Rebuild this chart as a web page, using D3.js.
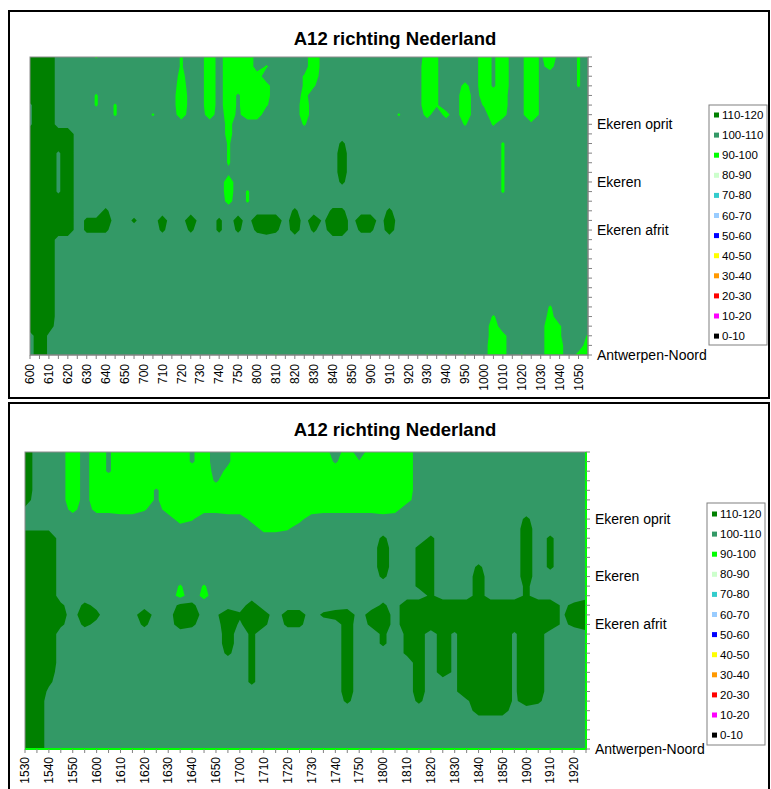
<!DOCTYPE html>
<html>
<head>
<meta charset="utf-8">
<script src="https://cdn.jsdelivr.net/npm/d3@7"></script>
<style>
  body { margin: 0; background: #fff; }
  svg { display: block; }
</style>
</head>
<body>
<div id="chart"></div>
<script>
// legend classes, top to bottom
const bandLabels = ["110-120", "100-110", "90-100", "80-90", "70-80", "60-70", "50-60", "40-50", "30-40", "20-30", "10-20", "0-10"];
const bandColors = ["#008000", "#339966", "#00ff00", "#ccffcc", "#33cccc", "#99ccff", "#0000ff", "#ffff00", "#ff9900", "#ff0000", "#ff00ff", "#000000"];
const bandLower = [110, 100, 90, 80, 70, 60, 50, 40, 30, 20, 10, 0];

// one character = one speed reading (km/h)
const speedKey = { "0": 92, "1": 95, "2": 97, "3": 99, "4": 102, "5": 105, "6": 108, "7": 112, "8": 115, "9": 118 };

const times1 = ["600", "605", "610", "615", "620", "625", "630", "635", "640", "645", "650", "655",
  "700", "705", "710", "715", "720", "725", "730", "735", "740", "745", "750", "755",
  "800", "805", "810", "815", "820", "825", "830", "835", "840", "845", "850", "855",
  "900", "905", "910", "915", "920", "925", "930", "935", "940", "945", "950", "955",
  "1000", "1005", "1010", "1015", "1020", "1025", "1030", "1035", "1040", "1045", "1050", "1055"];

const times2 = ["1530", "1535", "1540", "1545", "1550", "1555",
  "1600", "1605", "1610", "1615", "1620", "1625", "1630", "1635", "1640", "1645", "1650", "1655",
  "1700", "1705", "1710", "1715", "1720", "1725", "1730", "1735", "1740", "1745", "1750", "1755",
  "1800", "1805", "1810", "1815", "1820", "1825", "1830", "1835", "1840", "1845", "1850", "1855",
  "1900", "1905", "1910", "1915", "1920", "1925"];

// measuring points, top of the chart to bottom
const places = ["", "", "", "", "", "", "", "Ekeren oprit", "", "", "", "", "", "Ekeren", "", "", "", "",
  "Ekeren afrit", "", "", "", "", "", "", "", "", "", "", "", "", "Antwerpen-Noord"];

// morning, 6:00 - 10:55
const speeds1 = [
  "9995555355 5555553550 5000555555 0555555555 5513555504 0540405535",
  "9995555555 5555553550 5000535555 0555555555 5503555504 0540425535",
  "9995555555 5555552550 5000155553 1555555555 5503555504 0540455535",
  "9995555555 5555551550 5000025553 3555555555 5503552504 0540455535",
  "9995555355 5555550550 5040025552 5555555555 5503550510 1540455555",
  "6995555353 5555550550 5040035551 5555555555 5503550530 1540455555",
  "6995555553 5553551551 5141155551 5555555553 5525250550 2540455555",
  "6995555555 5555555555 5255555553 5555555555 5555553553 5554555555",
  "9999955555 5555555555 5255555555 5555555555 5555555555 5555555555",
  "9999955555 5555555555 5355555555 5557555555 5555555555 3555555555",
  "9996955555 5555555555 5355555555 5558555555 5555555555 3555555555",
  "9996955555 5555555555 5355555555 5558555555 5555555555 3555555555",
  "9996955555 5555555555 5455555555 5558555555 5555555555 3555555555",
  "9996955555 5555555555 5155555555 5557555555 5555555555 3555555555",
  "9996955555 5555555555 5153555555 5555555555 5555555555 3555555555",
  "9999955555 5555555555 5253555555 5555555555 5555555555 5555555555",
  "9999955575 5555555555 5555555575 5577555575 5555555555 5555555555",
  "9999957795 5755855955 7585999595 9699599595 5555555555 5555555555",
  "9999957775 5555755755 7575787585 7599577585 5555555555 5555555555",
  "9995555555 5555555555 5555555555 5555555555 5555555555 5555555555",
  "9995555555 5555555555 5555555555 5555555555 5555555555 5555555555",
  "9995555555 5555555555 5555555555 5555555555 5555555555 5555555555",
  "9995555555 5555555555 5555555555 5555555555 5555555555 5555555555",
  "9995555555 5555555555 5555555555 5555555555 5555555555 5555555555",
  "9995555555 5555555555 5555555555 5555555555 5555555555 5555555555",
  "9995555555 5555555555 5555555555 5555555555 5555555555 5555555555",
  "9995555555 5555555555 5555555555 5555555555 5555555555 5555535555",
  "9995555555 5555555555 5555555555 5555555555 5555555553 5555525555",
  "9985555555 5555555555 5555555555 5555555555 5555555551 5555503555",
  "5965555555 5555555555 5555555555 5555555555 5555555551 2555503553",
  "5965555555 5555555555 5555555555 5555555555 5555555550 2555502551",
  "5965555555 5555555555 5555553555 5555555555 5535353550 2535502520"
];

// evening, 15:30 - 19:25
const speeds2 = [
  "9555050400 0000406400 0000006060 0015555555 55555555",
  "9555050400 0000406400 0000004030 0015555555 55555555",
  "9555050400 0000005200 0000000000 0015555555 55555555",
  "9555050000 0000004000 0000000000 0015555555 55555555",
  "9555050000 0400000000 0000000000 0015555555 55555555",
  "8555050000 0400000000 0000000000 0025555555 55555555",
  "6555252211 3510022110 0000122222 1255555555 55555555",
  "5555555555 5551355552 0002555555 5555555555 55755555",
  "6665555555 5555555555 2235555555 5555555555 55855555",
  "9995555555 5555555555 5555555555 7555755555 55857555",
  "9995555555 5555555555 5555555555 8557755555 55857555",
  "9995555555 5555555555 5555555555 8557755555 55857555",
  "9995555555 5555555555 5555555555 8557755575 55857555",
  "9995555555 5555555555 5555555555 7557755585 55855555",
  "9995555555 5553535555 5555555555 5557755585 55755555",
  "9995555555 5552525555 5555555555 5555755585 55755555",
  "9997576555 5557755558 5555555555 7599999999 99999679",
  "9998597555 9559956979 8588578958 9599999999 99999699",
  "9997576555 7558755969 7577555857 9599999999 99999679",
  "9995555555 5555555857 5555555855 7578586999 96985555",
  "9995555555 5555555857 5555555855 7578586999 96985555",
  "9995555555 5555555757 5555555855 5578586999 96985555",
  "9995555555 5555555557 5555555855 5558586999 96985555",
  "9985555555 5555555557 5555555855 5558586999 96985555",
  "9975555555 5555555557 5555555855 5558556999 96985555",
  "9965555555 5555555555 5555555855 5558556999 96985555",
  "9955555555 5555555555 5555555755 5557555699 96875555",
  "9955555555 5555555555 5555555555 5555555588 85555555",
  "9955555555 5555555555 5555555555 5555555555 55555555",
  "9955555555 5555555555 5555555555 5555555555 55555555",
  "9955555555 5555555555 5555555555 5555555555 55555555",
  "9955555555 5555555555 5555555555 5555555555 55555555"
];

const width = 771;
const height = 789;
const font = "'Liberation Sans', Arial, sans-serif";

const panels = [
  { id: "clip1", times: times1, rows: speeds1, box: [9, 11, 760, 387], titleY: 45, labelGap: 9,
    left: 30, right: 588, top: 57, bottom: 355, legend: [709, 105, 58, 240], legendY0: 115, edge: "#808080" },
  { id: "clip2", times: times2, rows: speeds2, box: [9, 403, 760, 420], titleY: 436, labelGap: 8,
    left: 25, right: 586, top: 452, bottom: 749, legend: [707, 503, 58, 242], legendY0: 514, edge: "#00ff00" }
];

const svg = d3.select("#chart").append("svg")
  .attr("width", width)
  .attr("height", height)
  .attr("viewBox", [0, 0, width, height]);

const defs = svg.append("defs");

panels.forEach(p => {
  const g = svg.append("g");

  g.append("rect")
    .attr("x", p.box[0]).attr("y", p.box[1])
    .attr("width", p.box[2]).attr("height", p.box[3])
    .attr("fill", "#fff")
    .attr("stroke", "#000")
    .attr("stroke-width", 2);

  g.append("text")
    .attr("x", 395)
    .attr("y", p.titleY)
    .attr("text-anchor", "middle")
    .attr("font-family", font)
    .attr("font-weight", "bold")
    .attr("font-size", "18.5px")
    .text("A12 richting Nederland");

  const nx = p.times.length;
  const ny = places.length;
  const values = p.rows.flatMap(r => {
    const s = r.replace(/ /g, "").padEnd(nx, "5").slice(0, nx);
    return Array.from(s, ch => speedKey[ch]);
  });

  const x = d3.scaleLinear().domain([0, nx - 1]).range([p.left, p.right]);
  const y = d3.scaleLinear().domain([0, ny - 1]).range([p.top, p.bottom]);

  // contour grid coords: sample i sits at i + 0.5
  const toScreen = d3.geoTransform({
    point(px, py) { this.stream.point(x(px - 0.5), y(py - 0.5)); }
  });
  const path = d3.geoPath(toScreen);

  const contours = d3.contours()
    .size([nx, ny])
    .thresholds(bandLower.slice().reverse())(values);

  defs.append("clipPath").attr("id", p.id)
    .append("rect")
    .attr("x", p.left).attr("y", p.top)
    .attr("width", p.right - p.left).attr("height", p.bottom - p.top);

  g.append("g")
    .attr("clip-path", `url(#${p.id})`)
    .selectAll("path")
    .data(contours)
    .join("path")
    .attr("d", path)
    .attr("fill", d => bandColors[bandLower.indexOf(d.value)]);

  // plot frame
  g.append("rect")
    .attr("x", p.left).attr("y", p.top)
    .attr("width", p.right - p.left).attr("height", p.bottom - p.top)
    .attr("fill", "none")
    .attr("stroke", "#8c8c8c")
    .attr("stroke-width", 1);

  g.append("path")
    .attr("d", `M${p.right},${p.top}V${p.bottom}H${p.left}`)
    .attr("fill", "none")
    .attr("stroke", p.edge)
    .attr("stroke-width", p.edge === "#00ff00" ? 2 : 1);

  // time axis
  g.append("g").selectAll("line")
    .data(p.times)
    .join("line")
    .attr("x1", (d, i) => x(i)).attr("x2", (d, i) => x(i))
    .attr("y1", p.bottom).attr("y2", p.bottom + 4)
    .attr("stroke", "#808080");

  g.append("g").selectAll("text")
    .data(p.times.map((t, i) => ({ t, i })).filter(d => d.t.endsWith("0")))
    .join("text")
    .attr("transform", d => `translate(${x(d.i)},${p.bottom + p.labelGap}) rotate(-90)`)
    .attr("text-anchor", "end")
    .attr("dy", "0.35em")
    .attr("font-family", font)
    .attr("font-size", "12px")
    .text(d => d.t);

  // location axis on the right
  g.append("g").selectAll("line")
    .data(places)
    .join("line")
    .attr("x1", p.right).attr("x2", p.right + 4)
    .attr("y1", (d, i) => y(i)).attr("y2", (d, i) => y(i))
    .attr("stroke", "#808080");

  g.append("g").selectAll("text")
    .data(places.map((name, i) => ({ name, i })).filter(d => d.name))
    .join("text")
    .attr("x", p.right + 9)
    .attr("y", d => y(d.i))
    .attr("dy", "0.35em")
    .attr("font-family", font)
    .attr("font-size", "14px")
    .text(d => d.name);

  // legend
  const [lx, ly, lw, lh] = p.legend;
  const leg = g.append("g");
  leg.append("rect")
    .attr("x", lx).attr("y", ly).attr("width", lw).attr("height", lh)
    .attr("fill", "#fff")
    .attr("stroke", "#808080");

  const item = leg.selectAll("g")
    .data(bandLabels)
    .join("g")
    .attr("transform", (d, i) => `translate(${lx},${p.legendY0 + i * 20.1})`);

  item.append("rect")
    .attr("x", 5).attr("y", -2.5)
    .attr("width", 5).attr("height", 5)
    .attr("fill", (d, i) => bandColors[i]);

  item.append("text")
    .attr("x", 13)
    .attr("dy", "0.35em")
    .attr("font-family", font)
    .attr("font-size", "11.5px")
    .text(d => d);
});
</script>
</body>
</html>
